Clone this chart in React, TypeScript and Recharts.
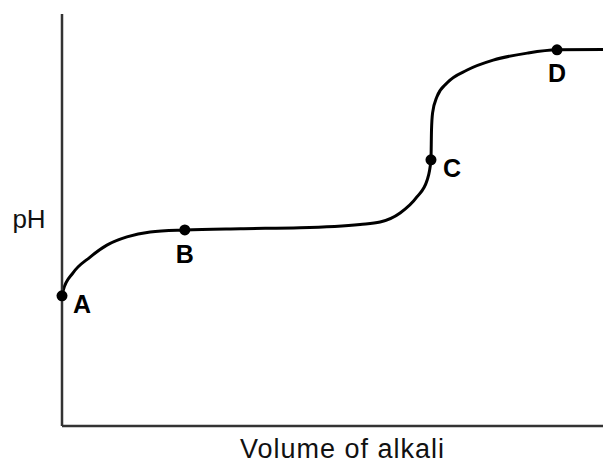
import React from "react";
import {
  ComposedChart,
  Line,
  Scatter,
  XAxis,
  YAxis,
} from "recharts";

// titration curve (volume 0-100, pH scale 0-100)
const volume = [
  0, 0.24, 2.0, 5.2, 8.3, 12.0, 16.3, 22.7, 33.0, 44.0, 55.1, 58.8, 62.5,
  65.6, 67.5, 68.2, 68.3, 68.5, 69.3, 71.2, 74.9, 79.7, 86.0, 91.5, 100,
];
const ph = [
  31.6, 33.0, 37.1, 41.0, 43.9, 45.9, 47.1, 47.6, 47.9, 48.1, 48.9, 49.5,
  51.7, 55.6, 59.7, 64.6, 71.8, 76.0, 79.9, 83.3, 86.4, 88.8, 90.5, 91.3,
  91.4,
];

const pointNames = ["A", "B", "C", "D"];
const pointVolume = [0, 22.7, 68.2, 91.5];
const pointPh = [31.6, 47.6, 64.6, 91.3];

const xTitle = "Volume of alkali";
const yTitle = "pH";

const curve = volume.map((x, i) => ({ x, y: ph[i] }));
const points = pointNames.map((name, i) => ({
  name,
  x: pointVolume[i],
  y: pointPh[i],
}));

// where each letter sits relative to its dot
const LABEL_OFFSET: Record<string, [number, number]> = {
  A: [20, 17],
  B: [0, 33],
  C: [21, 17],
  D: [0, 32],
};

const FONT = "'Liberation Sans', Arial, Helvetica, sans-serif";
const AXIS_COLOR = "#333";

function PointMark(props: any) {
  const { cx, cy, payload } = props;
  const [dx, dy] = LABEL_OFFSET[payload.name] || [0, 0];
  return (
    <g>
      <circle cx={cx} cy={cy} r={5.5} fill="#000" />
      <text
        x={cx + dx}
        y={cy + dy}
        textAnchor="middle"
        fontFamily={FONT}
        fontWeight="bold"
        fontSize={25}
        fill="#000"
      >
        {payload.name}
      </text>
    </g>
  );
}

function XTitle(props: any) {
  const { viewBox } = props;
  return (
    <text
      x={viewBox.x + viewBox.width / 2 + 10}
      y={viewBox.y + 32}
      textAnchor="middle"
      fontFamily={FONT}
      fontSize={27}
      letterSpacing={1}
      fill="#111"
    >
      {xTitle}
    </text>
  );
}

function YTitle(props: any) {
  const { viewBox } = props;
  return (
    <text
      x={viewBox.x + viewBox.width / 2 - 2}
      y={viewBox.y + viewBox.height / 2 + 8}
      textAnchor="middle"
      fontFamily={FONT}
      fontSize={26}
      fill="#111"
    >
      {yTitle}
    </text>
  );
}

export default function App() {
  return (
    <div style={{ position: "absolute", left: 0, top: 0, background: "#fff" }}>
      <ComposedChart
        width={603}
        height={465}
        margin={{ top: 14, right: 0, bottom: 0, left: 0 }}
      >
        <XAxis
          type="number"
          dataKey="x"
          domain={[0, 100]}
          height={39}
          tick={false}
          tickLine={false}
          axisLine={{ stroke: AXIS_COLOR, strokeWidth: 2.5 }}
          label={<XTitle />}
        />
        <YAxis
          type="number"
          dataKey="y"
          domain={[0, 100]}
          width={62}
          tick={false}
          tickLine={false}
          axisLine={{ stroke: AXIS_COLOR, strokeWidth: 2.5 }}
          label={<YTitle />}
        />
        <Line
          data={curve}
          dataKey="y"
          type="monotone"
          stroke="#000"
          strokeWidth={3}
          dot={false}
          activeDot={false}
          isAnimationActive={false}
        />
        <Scatter
          data={points}
          dataKey="y"
          shape={<PointMark />}
          isAnimationActive={false}
        />
      </ComposedChart>
    </div>
  );
}
